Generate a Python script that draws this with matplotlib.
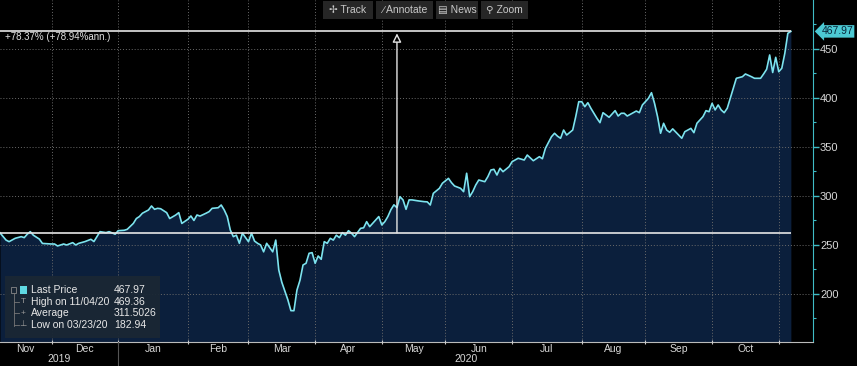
import numpy as np
import matplotlib.pyplot as plt
from matplotlib.transforms import blended_transform_factory
from matplotlib.patches import Rectangle
from matplotlib.lines import Line2D

plt.rcParams['font.family'] = ['Liberation Sans', 'DejaVu Sans']

# trading day number (counted from 2019-11-06) and last price
day = [1, 3, 4, 6, 8, 9, 10, 11, 12, 14, 15, 18, 19, 20, 22, 23, 25, 26, 27, 29,
       31, 32, 33, 34, 36, 37, 39, 40, 42, 43, 45, 46, 47, 48, 50, 51, 52, 53, 54, 56,
       57, 59, 60, 61, 63, 64, 65, 66, 67, 69, 70, 71, 73, 74, 75, 76, 77, 78, 79, 80,
       81, 83, 84, 85, 86, 87, 88, 89, 91, 92, 93, 94, 95, 96, 97, 98, 99, 100, 101, 102,
       103, 104, 105, 106, 107, 108, 109, 110, 111, 112, 113, 114, 115, 116, 117, 118, 120, 121, 122, 123,
       125, 126, 127, 128, 129, 130, 131, 132, 133, 134, 135, 136, 137, 139, 141, 142, 143, 144, 146, 147,
       149, 150, 151, 153, 154, 155, 156, 157, 158, 159, 161, 162, 163, 164, 165, 166, 167, 169, 170, 172,
       174, 175, 177, 179, 180, 181, 183, 184, 185, 186, 187, 188, 190, 191, 192, 193, 194, 195, 196, 197,
       198, 199, 200, 201, 202, 204, 205, 206, 207, 208, 210, 211, 212, 213, 215, 216, 217, 218, 219, 220,
       221, 222, 223, 225, 226, 227, 229, 230, 231, 233, 234, 235, 236, 237, 238, 239, 240, 241, 242, 243,
       244, 246, 247, 249, 250, 252, 253, 254, 255, 256, 257, 258, 259, 260, 261, 262]
price = [262.4, 255.0, 253.4, 256.8, 258.5, 257.5, 261.0, 263.6, 260.0, 256.0, 251.6, 251.0, 251.0, 249.0, 251.0, 250.0, 252.4, 250.0, 251.7, 253.4,
         255.8, 253.5, 258.5, 263.6, 262.6, 263.6, 261.0, 264.6, 265.0, 266.0, 272.0, 277.0, 279.0, 282.4, 285.7, 289.8, 286.4, 287.4, 287.0, 283.0,
         277.0, 280.6, 283.0, 272.0, 276.2, 279.6, 275.0, 280.6, 279.5, 282.4, 284.0, 287.4, 288.0, 290.8, 285.7, 279.0, 265.3, 258.5, 260.0, 251.7,
         262.0, 253.4, 262.0, 254.0, 251.7, 250.0, 243.0, 251.7, 243.0, 255.0, 224.5, 212.0, 203.0, 194.0, 183.0, 182.9, 204.0, 214.0, 229.6, 231.3,
         241.5, 242.2, 231.3, 238.8, 235.4, 253.4, 251.7, 256.8, 255.0, 260.0, 257.5, 262.6, 260.0, 264.6, 262.0, 258.5, 267.0, 267.5, 273.8, 268.7,
         275.5, 279.0, 270.4, 273.8, 279.0, 286.0, 291.0, 288.0, 299.3, 296.0, 286.4, 296.0, 296.0, 295.0, 294.2, 294.0, 290.8, 302.7, 307.8, 313.0,
         318.0, 313.6, 310.2, 307.8, 304.4, 323.2, 299.3, 304.4, 311.2, 316.3, 314.6, 319.7, 326.5, 327.2, 321.4, 328.3, 324.8, 329.9, 335.0, 338.5,
         336.7, 341.8, 336.0, 340.1, 338.0, 348.7, 360.5, 364.0, 361.0, 358.9, 367.3, 362.2, 367.3, 381.0, 396.2, 396.2, 391.1, 395.2, 389.5, 384.4,
         379.3, 374.8, 385.0, 382.7, 380.3, 387.1, 381.6, 384.4, 384.4, 381.6, 385.0, 386.7, 385.0, 392.9, 399.7, 405.4, 394.6, 381.0, 364.0, 374.2,
         367.3, 365.0, 368.5, 362.2, 358.9, 365.6, 369.0, 364.6, 374.2, 381.0, 387.1, 386.0, 394.6, 387.8, 392.9, 387.8, 385.0, 389.5, 399.7, 409.9,
         420.1, 421.7, 424.5, 421.7, 420.1, 420.1, 424.5, 429.3, 443.9, 426.0, 441.5, 426.8, 430.3, 445.6, 466.0, 467.97]

start_price = 262.36
last_price = 467.97
arrow_day = 132
month_starts = ['2019-12-01', '2020-01-01', '2020-02-01', '2020-03-01', '2020-04-01', '2020-05-01',
                '2020-06-01', '2020-07-01', '2020-08-01', '2020-09-01', '2020-10-01', '2020-11-01']
month_names = ['Nov', 'Dec', 'Jan', 'Feb', 'Mar', 'Apr', 'May', 'Jun', 'Jul', 'Aug', 'Sep', 'Oct']
legend_rows = [('Last Price', '467.97'), ('High on 11/04/20', '469.36'),
               ('Average', '311.5026'), ('Low on 03/23/20', '182.94')]

W, H = 857, 366
bg = '#000000'
navy = '#0b1f3c'
cyan = '#7ce3ef'
teal = '#3fbcc6'
txt = '#d8d8d8'
grid_c = '#6a6a6a'

fig = plt.figure(figsize=(W / 100, H / 100), dpi=100, facecolor=bg)
ax = fig.add_axes([0, 24 / H, 813 / W, 1 - 24 / H], facecolor=bg)

x_lo, x_hi = 1.0, 269.3
ax.set_xlim(x_lo, x_hi)
ax.set_ylim(151, 500)

ax.fill_between(day, price, 151, color=navy, lw=0, zorder=1)
ax.plot(day, price, color=cyan, lw=1.2, zorder=4)

# start / end reference lines and arrow
ax.hlines([start_price, last_price], day[0], day[-1], colors='#e6e6e6', lw=1.2, zorder=5)
ax.annotate('', xy=(arrow_day, last_price - 2), xytext=(arrow_day, start_price),
            arrowprops=dict(arrowstyle='-|>', fc='black', ec='#e6e6e6', lw=1.0,
                            mutation_scale=13, shrinkA=0, shrinkB=0), zorder=5)

# ticks and grid
tick_pos = np.busday_count('2019-11-06', month_starts)
ax.set_xticks(tick_pos)
ax.set_xticklabels([])
ax.tick_params(axis='x', colors='#cccccc', length=3, direction='inout', width=0.8)
ax.yaxis.tick_right()
ax.set_yticks([200, 250, 300, 350, 400, 450])
ax.set_yticks([175, 225, 275, 325, 375, 425, 475], minor=True)
ax.tick_params(axis='y', which='major', colors=teal, labelcolor=txt, length=4, width=1,
               labelsize=8, pad=1)
ax.tick_params(axis='y', which='minor', colors=teal, length=2, width=0.8)
ax.grid(True, color=grid_c, linestyle=(0, (1, 2)), lw=0.7, zorder=2)
ax.set_axisbelow(False)
for s in ['top', 'left']:
    ax.spines[s].set_visible(False)
ax.spines['right'].set_color(teal)
ax.spines['bottom'].set_color('#bbbbbb')

# month and year labels
tr = blended_transform_factory(ax.transData, fig.transFigure)
edges = [x_lo] + list(tick_pos)
for i, name in enumerate(month_names):
    fig.text((edges[i] + edges[i + 1]) / 2, 1 - 349 / H, name, transform=tr,
             color=txt, fontsize=7.5, ha='center', va='center')
fig.text((x_lo + tick_pos[1]) / 2, 1 - 359 / H, '2019', transform=tr,
         color=txt, fontsize=7.5, ha='center', va='center')
fig.text((tick_pos[1] + x_hi) / 2, 1 - 359 / H, '2020', transform=tr,
         color=txt, fontsize=7.5, ha='center', va='center')
fig.add_artist(Line2D([tick_pos[1], tick_pos[1]], [0, 24 / H], transform=tr,
                     color='#555555', lw=0.8))

# change annotation
fig.text(5 / W, 1 - 37 / H, '+78.37% (+78.94%ann.)', color='#e0e0e0', fontsize=7,
         va='center', ha='left')

# last price tag
ax.annotate('467.97', xy=(1, last_price), xycoords=('axes fraction', 'data'),
            xytext=(6, 0), textcoords='offset points', color='#08263a', fontsize=7.5,
            va='center', ha='left',
            bbox=dict(boxstyle='larrow,pad=0.12', fc='#4cc9d3', ec='none'))

# legend box
fig.add_artist(Rectangle((5 / W, 1 - 338 / H), 155 / W, 62 / H, transform=fig.transFigure,
                         fc='#1a2734', ec='none', alpha=0.95, zorder=6))
fig.add_artist(Rectangle((20 / W, 1 - 294 / H), 7 / W, 8 / H, transform=fig.transFigure,
                         fc='#5fd8e2', ec='none', zorder=7))
fig.add_artist(Rectangle((11 / W, 1 - 293 / H), 5 / W, 6 / H, transform=fig.transFigure,
                         fc='none', ec='#888888', lw=0.6, zorder=7))
fig.add_artist(Line2D([13.5 / W, 13.5 / W], [1 - 293 / H, 1 - 326 / H], transform=fig.transFigure,
                      color='#777777', lw=0.6, zorder=7))
for k, (lab, val) in enumerate(legend_rows):
    yy = 1 - (290 + 11.6 * k) / H
    if k > 0:
        fig.add_artist(Line2D([13.5 / W, 19 / W], [yy, yy], transform=fig.transFigure,
                              color='#777777', lw=0.6, zorder=7))
    fig.text(31 / W, yy, lab, color='#e8e8e8', fontsize=7.5, va='center', ha='left', zorder=8)
    fig.text(114 / W, yy, val, color='#e8e8e8', fontsize=7.5, va='center', ha='left', zorder=8)
mark_y = [1 - (290 + 11.6 * k) / H for k in range(1, 4)]
fig.text(23 / W, mark_y[0], 'T', color='#999999', fontsize=6, va='center', ha='center', zorder=8)
fig.text(23 / W, mark_y[1], '+', color='#999999', fontsize=6, va='center', ha='center', zorder=8)
fig.text(23 / W, mark_y[2], '⊥', color='#999999', fontsize=6, va='center', ha='center', zorder=8)

# toolbar at the top
buttons = [(323, 373, '✢ Track'), (376, 433, '∕ Annotate'), (436, 478, '▤ News'), (481, 528, '⚲ Zoom')]
for x0, x1, lab in buttons:
    fig.add_artist(Rectangle((x0 / W, 1 - 19 / H), (x1 - x0) / W, 18 / H, transform=fig.transFigure,
                             fc='#262626', ec='none', zorder=6))
    fig.text((x0 + x1) / 2 / W, 1 - 10 / H, lab, color='#c8c8c8', fontsize=7.5,
             ha='center', va='center', zorder=7)

fig.savefig('out.png', dpi=100, facecolor=bg)
